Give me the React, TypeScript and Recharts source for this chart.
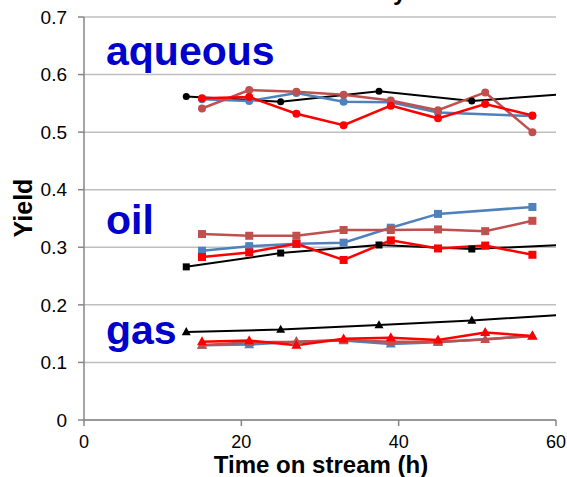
import React from 'react';
import { LineChart, Line, XAxis, YAxis, CartesianGrid } from 'recharts';

// sampling times (h)
const runHours = [15, 21, 27, 33, 39, 45, 51, 57];
const blackHours = [13, 25, 37.5, 49.3, 61];

const aqueousBlue = [0.557, 0.554, 0.568, 0.553, 0.552, 0.534, null, 0.528];
const aqueousDarkRed = [0.541, 0.573, 0.570, 0.565, 0.555, 0.538, 0.569, 0.500];
const aqueousRed = [0.559, 0.561, 0.532, 0.512, 0.546, 0.524, 0.549, 0.529];
const aqueousBlack = [0.562, 0.553, 0.571, 0.554, 0.566];

const oilBlue = [0.294, 0.302, 0.306, 0.308, 0.334, 0.358, null, 0.370];
const oilDarkRed = [0.323, 0.320, 0.320, 0.330, 0.330, 0.331, 0.328, 0.346];
const oilRed = [0.283, 0.291, 0.306, 0.278, 0.312, 0.298, 0.303, 0.287];
const oilBlack = [0.266, 0.290, 0.304, 0.297, 0.304];

const gasBlue = [0.130, 0.131, 0.136, 0.138, 0.132, 0.135, null, 0.146];
const gasDarkRed = [0.130, 0.135, 0.136, 0.139, 0.136, 0.136, 0.140, 0.146];
const gasRed = [0.136, 0.138, 0.130, 0.141, 0.143, 0.139, 0.152, 0.146];
const gasBlack = [0.153, 0.157, 0.165, 0.173, 0.183];

const xTicks = [0, 20, 40, 60];
const yTicks = [0, 0.1, 0.2, 0.3, 0.4, 0.5, 0.6, 0.7];

const BLUE = '#4F81BD';
const DARKRED = '#C0504D';
const RED = '#FF0000';
const BLACK = '#000000';
const LABEL_BLUE = '#0000CC';

const toPoints = (hours: number[], values: (number | null)[]) =>
  hours.map((h, i) => ({ t: h, y: values[i] }));

type Shape = 'circle' | 'square' | 'triangle';

const makeDot = (shape: Shape, color: string, size: number, id: string) => (props: any) => {
  const { cx, cy, index } = props;
  const key = `${id}-${index}`;
  if (cx == null || cy == null || props.value == null) return <g key={key} />;
  if (shape === 'circle') return <circle key={key} cx={cx} cy={cy} r={size} fill={color} />;
  if (shape === 'square')
    return <rect key={key} x={cx - size} y={cy - size} width={size * 2} height={size * 2} fill={color} />;
  const h = size * 1.8;
  return (
    <polygon
      key={key}
      points={`${cx},${cy - h * 0.6} ${cx - size},${cy + h * 0.4} ${cx + size},${cy + h * 0.4}`}
      fill={color}
    />
  );
};

interface SeriesDef {
  id: string;
  data: { t: number; y: number | null }[];
  color: string;
  shape: Shape;
  size: number;
  width: number;
}

const series: SeriesDef[] = [
  { id: 'aqK', data: toPoints(blackHours, aqueousBlack), color: BLACK, shape: 'circle', size: 3.5, width: 2 },
  { id: 'oilK', data: toPoints(blackHours, oilBlack), color: BLACK, shape: 'square', size: 3.5, width: 2 },
  { id: 'gasK', data: toPoints(blackHours, gasBlack), color: BLACK, shape: 'triangle', size: 4.5, width: 2 },
  { id: 'aqB', data: toPoints(runHours, aqueousBlue), color: BLUE, shape: 'circle', size: 4, width: 2.5 },
  { id: 'oilB', data: toPoints(runHours, oilBlue), color: BLUE, shape: 'square', size: 4, width: 2.5 },
  { id: 'gasB', data: toPoints(runHours, gasBlue), color: BLUE, shape: 'triangle', size: 5, width: 2.5 },
  { id: 'aqD', data: toPoints(runHours, aqueousDarkRed), color: DARKRED, shape: 'circle', size: 4, width: 2.5 },
  { id: 'oilD', data: toPoints(runHours, oilDarkRed), color: DARKRED, shape: 'square', size: 4, width: 2.5 },
  { id: 'gasD', data: toPoints(runHours, gasDarkRed), color: DARKRED, shape: 'triangle', size: 5, width: 2.5 },
  { id: 'aqR', data: toPoints(runHours, aqueousRed), color: RED, shape: 'circle', size: 4, width: 2.5 },
  { id: 'oilR', data: toPoints(runHours, oilRed), color: RED, shape: 'square', size: 4, width: 2.5 },
  { id: 'gasR', data: toPoints(runHours, gasRed), color: RED, shape: 'triangle', size: 5, width: 2.5 },
];

const font = 'Liberation Sans, Arial, sans-serif';

export default function App() {
  return (
    <div style={{ position: 'absolute', left: 0, top: 0, width: 567, height: 477, background: '#fff' }}>
      <LineChart width={567} height={477} margin={{ top: 17, right: 11, left: 0, bottom: 0 }}>
        <CartesianGrid vertical={false} stroke="#BFBFBF" strokeWidth={1.5} />
        <XAxis
          dataKey="t"
          type="number"
          domain={[0, 60]}
          ticks={xTicks}
          allowDataOverflow
          height={57}
          stroke="#868686"
          strokeWidth={1.5}
          tickSize={6}
          tickMargin={9}
          tick={{ fontSize: 18, fill: '#000', fontFamily: font }}
        />
        <YAxis
          type="number"
          domain={[0, 0.7]}
          ticks={yTicks}
          allowDataOverflow
          width={84}
          stroke="#868686"
          strokeWidth={1.5}
          tickSize={6}
          tickMargin={11}
          tickFormatter={(v: number) => (v === 0 ? '0' : v.toFixed(1))}
          tick={{ fontSize: 19, fill: '#000', fontFamily: font }}
        />
        {series.map((s) => (
          <Line
            key={s.id}
            data={s.data}
            dataKey="y"
            stroke={s.color}
            strokeWidth={s.width}
            connectNulls
            dot={makeDot(s.shape, s.color, s.size, s.id)}
            activeDot={false}
            isAnimationActive={false}
          />
        ))}
        <text x={106} y={65} fontSize={41} fontWeight="bold" fill={LABEL_BLUE} fontFamily={font}>
          aqueous
        </text>
        <text x={106} y={234} fontSize={41} fontWeight="bold" fill={LABEL_BLUE} fontFamily={font}>
          oil
        </text>
        <text x={106} y={344} fontSize={41} fontWeight="bold" fill={LABEL_BLUE} fontFamily={font}>
          gas
        </text>
        <text x={393} y={0} fontSize={24} fontWeight="bold" fill="#000" fontFamily={font} textAnchor="end">
          Product{' '}
        </text>
        <text x={393} y={0} fontSize={24} fontWeight="bold" fill="#000" fontFamily={font}>
          yields
        </text>
        <text x={321} y={473} fontSize={24} fontWeight="bold" fill="#000" fontFamily={font} textAnchor="middle">
          Time on stream (h)
        </text>
        <text
          x={32}
          y={208}
          fontSize={25}
          fontWeight="bold"
          fill="#000"
          fontFamily={font}
          textAnchor="middle"
          transform="rotate(-90, 32, 208)"
        >
          Yield
        </text>
      </LineChart>
    </div>
  );
}
